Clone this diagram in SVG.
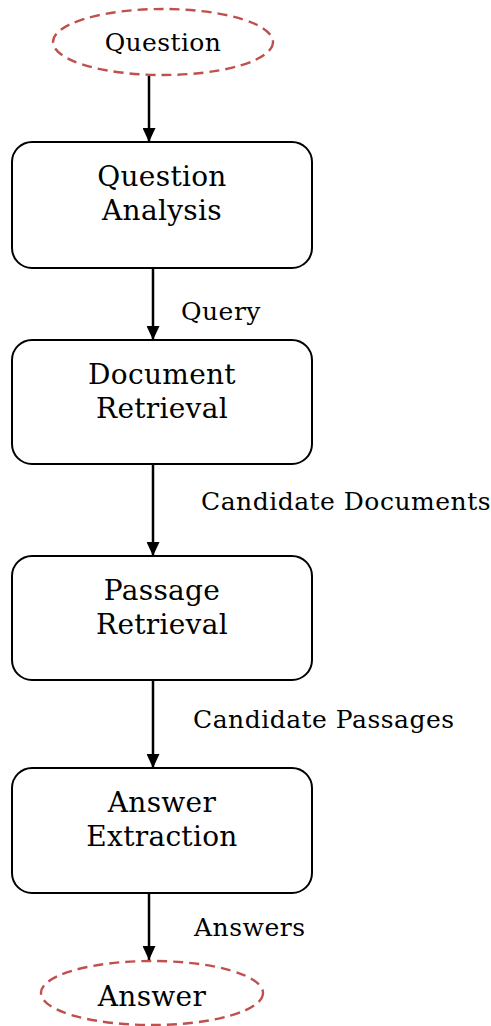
<svg xmlns="http://www.w3.org/2000/svg" width="491" height="1026" viewBox="0 0 491 1026">
  <style>
    .box { fill: #ffffff; stroke: #000000; stroke-width: 2; }
    .term { fill: #ffffff; stroke: #c0504d; stroke-width: 2.4; stroke-dasharray: 10 6; }
    .edge { fill: none; stroke: #000000; stroke-width: 2.5; }
    .lbl { font-family: "DejaVu Serif", "Liberation Serif", serif; fill: #000000; text-anchor: middle; }
    .big { font-size: 28px; letter-spacing: 0.3px; }
    .mid { font-size: 25px; letter-spacing: 0.4px; }
    .elbl { font-family: "DejaVu Serif", "Liberation Serif", serif; font-size: 25px; letter-spacing: 0.5px; fill: #000000; }
  </style>
  <defs>
    <marker id="arrow" viewBox="0 0 14 13" refX="14" refY="6.5" markerWidth="14" markerHeight="13" markerUnits="userSpaceOnUse" orient="auto">
      <path d="M0,0 L14,6.5 L0,13 Z" fill="#000000"/>
    </marker>
  </defs>
  <rect width="491" height="1026" fill="#ffffff"/>

  <g id="connectors">
    <line class="edge" x1="149" y1="76" x2="149" y2="142" marker-end="url(#arrow)"/>
    <line class="edge" x1="153" y1="268" x2="153" y2="340" marker-end="url(#arrow)"/>
    <line class="edge" x1="153" y1="464" x2="153" y2="556" marker-end="url(#arrow)"/>
    <line class="edge" x1="153" y1="680" x2="153" y2="768" marker-end="url(#arrow)"/>
    <line class="edge" x1="149" y1="893" x2="149" y2="960" marker-end="url(#arrow)"/>
    <text class="elbl" x="181" y="320">Query</text>
    <text class="elbl" x="201" y="510">Candidate Documents</text>
    <text class="elbl" x="193" y="728">Candidate Passages</text>
    <text class="elbl" x="194" y="936">Answers</text>
  </g>

  <g id="question">
    <ellipse class="term" cx="163" cy="42" rx="110" ry="33"/>
    <text class="lbl mid" x="163" y="51">Question</text>
  </g>

  <g id="question-analysis">
    <rect class="box" x="12" y="142" width="300" height="126" rx="20" ry="20"/>
    <text class="lbl big" x="162" y="186">Question</text>
    <text class="lbl big" x="162" y="220">Analysis</text>
  </g>

  <g id="document-retrieval">
    <rect class="box" x="12" y="340" width="300" height="124" rx="20" ry="20"/>
    <text class="lbl big" x="162" y="384">Document</text>
    <text class="lbl big" x="162" y="418">Retrieval</text>
  </g>

  <g id="passage-retrieval">
    <rect class="box" x="12" y="556" width="300" height="124" rx="20" ry="20"/>
    <text class="lbl big" x="162" y="600">Passage</text>
    <text class="lbl big" x="162" y="634">Retrieval</text>
  </g>

  <g id="answer-extraction">
    <rect class="box" x="12" y="768" width="300" height="125" rx="20" ry="20"/>
    <text class="lbl big" x="162" y="812">Answer</text>
    <text class="lbl big" x="162" y="846">Extraction</text>
  </g>

  <g id="answer">
    <ellipse class="term" cx="152" cy="993" rx="111" ry="32"/>
    <text class="lbl big" x="152" y="1006">Answer</text>
  </g>
</svg>
